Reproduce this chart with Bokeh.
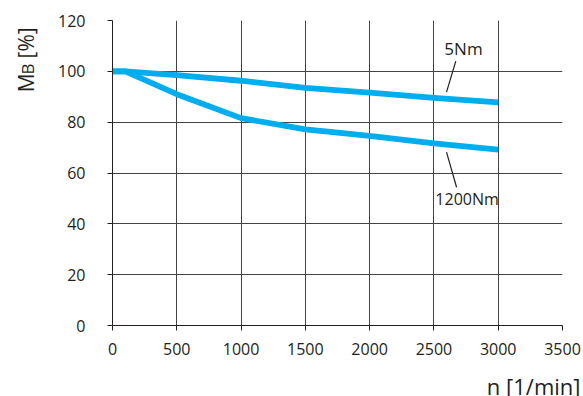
import math
from bokeh.plotting import figure
from bokeh.layouts import row, column
from bokeh.models import FixedTicker, Label
from bokeh.core.properties import value
from bokeh.embed import file_html
from bokeh.resources import INLINE

# ---- data ----
n_5nm = [0, 100, 500, 1000, 1500, 2000, 2500, 3000]
mb_5nm = [100, 100, 98.5, 96.3, 93.5, 91.6, 89.6, 87.8]

n_1200nm = [0, 100, 500, 1000, 1500, 2000, 2500, 3000]
mb_1200nm = [100, 100, 91.0, 81.6, 77.2, 74.6, 71.7, 69.2]

x_ticks = [0, 500, 1000, 1500, 2000, 2500, 3000, 3500]
y_ticks = [0, 20, 40, 60, 80, 100, 120]

FONT = "Open Sans"
TXT = "#231f20"
BLUE = "#00aeef"
GRID = "#444444"


def blank(width, height):
    f = figure(width=width, height=height, output_backend="svg", toolbar_location=None,
               x_range=(0, width), y_range=(0, height), x_axis_type=None, y_axis_type=None,
               min_border=0)
    f.outline_line_color = None
    f.grid.visible = False
    f.background_fill_color = "white"
    f.border_fill_color = "white"
    return f


# main chart
p = figure(width=543, height=376, output_backend="svg", toolbar_location=None,
           x_range=(0, 3500), y_range=(0, 120),
           min_border_left=72, min_border_right=21, min_border_top=20, min_border_bottom=51)
p.outline_line_color = None
p.background_fill_color = "white"
p.border_fill_color = "white"

for ax, ticks in ((p.xaxis, x_ticks), (p.yaxis, y_ticks)):
    ax.ticker = FixedTicker(ticks=ticks)
    ax.axis_line_color = TXT
    ax.axis_line_width = 1
    ax.major_tick_line_color = TXT
    ax.major_tick_in = 0
    ax.major_tick_out = 5
    ax.minor_tick_line_color = None
    ax.major_label_text_font = FONT
    ax.major_label_text_font_size = "16px"
    ax.major_label_text_color = TXT
p.xaxis.major_label_standoff = 12
p.yaxis.major_label_standoff = 22

p.xgrid.ticker = FixedTicker(ticks=x_ticks[1:])
p.ygrid.ticker = FixedTicker(ticks=y_ticks[1:-1])
for g in (p.xgrid, p.ygrid):
    g.grid_line_color = GRID
    g.grid_line_width = 1

p.line(n_5nm, mb_5nm, line_color=BLUE, line_width=5.8, line_join="round")
p.line(n_1200nm, mb_1200nm, line_color=BLUE, line_width=5.8, line_join="round")

# leader lines
p.segment(x0=[2670, 2598], y0=[104.0, 68.2], x1=[2598, 2676], y1=[91.8, 54.4],
          line_color=TXT, line_width=1.2)

p.add_layout(Label(x=2730, y=109.0, text="5Nm", text_font=FONT, text_font_size="17px",
                   text_color=TXT, text_align="center", text_baseline="middle"))
p.add_layout(Label(x=2758, y=49.9, text="1200Nm", text_font=FONT, text_font_size="16px",
                   text_color=TXT, text_align="center", text_baseline="middle"))

# y-axis title strip (left)
fy = blank(40, 376)
fy.text(x=[25.5], y=[376 - 88.3], text=["M"], angle=math.pi / 2,
        text_font=value(FONT), text_font_size=value("21px"), text_color=TXT,
        text_align="left", text_baseline="alphabetic")
fy.text(x=[27.0], y=[376 - 66.7], text=["B"], angle=math.pi / 2,
        text_font=value(FONT), text_font_size=value("17px"), text_color=TXT,
        text_align="left", text_baseline="alphabetic")
fy.text(x=[25.5], y=[376 - 46.7], text=["[%]"], angle=math.pi / 2,
        text_font=value(FONT), text_font_size=value("21px"), text_color=TXT,
        text_align="left", text_baseline="alphabetic")

# x-axis title strip (bottom)
fx = blank(583, 20)
fx.text(x=[580], y=[10.5], text=["n [1/min]"],
        text_font=value(FONT), text_font_size=value("22px"), text_color=TXT,
        text_align="right", text_baseline="alphabetic")

layout = column(row(fy, p, spacing=0), fx, spacing=0)

open("out.html", "w").write(file_html(layout, INLINE))
